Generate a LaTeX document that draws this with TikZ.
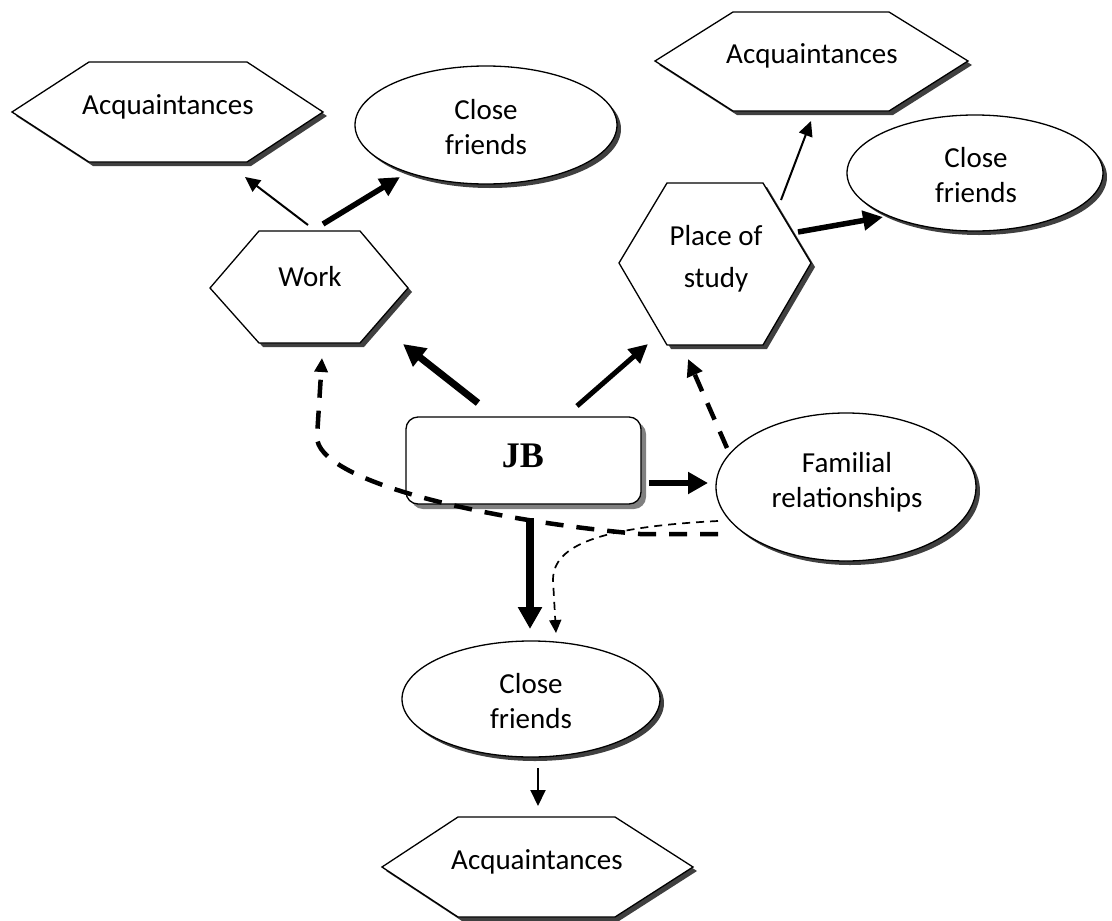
\documentclass[tikz,border=0pt]{standalone}
\usepackage{fontspec}
\setmainfont{Carlito}
\newfontfamily\jbfont{Liberation Serif}
\usetikzlibrary{arrows.meta}
\definecolor{shd}{HTML}{404040}
\definecolor{shdl}{HTML}{808080}
\tikzset{
  lbl/.style={font=\fontsize{29}{35}\selectfont, align=center, inner sep=0pt, anchor=base},
  shp/.style={draw=black, fill=white, line width=1.3pt},
  arrA/.style={line width=2pt, -{Triangle[length=15pt,width=14pt]}},
  arrB/.style={line width=5.5pt, -{Triangle[length=20pt,width=19pt]}},
  arrC/.style={line width=7pt, -{Triangle[length=22pt,width=22pt]}},
  dashA/.style={line width=4.5pt, dash pattern=on 18pt off 13pt, -{Triangle[length=17pt,width=16pt]}},
  dashB/.style={line width=1.7pt, dash pattern=on 8pt off 6pt, -{Triangle[length=13pt,width=12pt]}},
}
\newcommand{\myhex}[7]{%
  \fill[shd,shift={(4,4)}] (#1,#6) -- (#2,#5) -- (#3,#5) -- (#4,#6) -- (#3,#7) -- (#2,#7) -- cycle;
  \draw[shp] (#1,#6) -- (#2,#5) -- (#3,#5) -- (#4,#6) -- (#3,#7) -- (#2,#7) -- cycle;}
\newcommand{\myell}[4]{%
  \fill[shd,shift={(4,4)}] (#1,#2) ellipse [x radius=#3, y radius=#4];
  \draw[shp] (#1,#2) ellipse [x radius=#3, y radius=#4];}
\begin{document}
\begin{tikzpicture}[x=1pt,y=-1pt]
\useasboundingbox (0,0) rectangle (1112,921);
% shapes
\myhex{12}{89}{247}{323}{62}{112}{162}
\myhex{655}{733}{889}{968}{12}{61}{111}
\myhex{382}{458}{615}{693}{817}{867}{917}
\myhex{210}{259}{360}{408}{231}{288}{343}
\myhex{619}{667}{763}{811}{183}{263}{345}
\myell{486}{125}{131}{59}
\myell{975}{173}{128}{58}
\myell{846}{487}{130}{74}
\myell{531}{699}{129}{58}
\fill[shdl, rounded corners=12pt] (411,422) rectangle (646,509);
\draw[shp, rounded corners=12pt] (406,417) rectangle (641,504);
% labels
\node[lbl] (acqL) at (168,114) {Acquaintances};
\node[lbl] (acqT) at (812,63) {Acquaintances};
\node[lbl] (acqB) at (537,869) {Acquaintances};
\node[lbl] (work) at (310,286) {Work};
\node[lbl] (place) at (716,287) {Place of\\[7pt]study};
\node[lbl] (cfL) at (486,154) {Close\\friends};
\node[lbl] (cfR) at (976,202) {Close\\friends};
\node[lbl] (cfB) at (531,728) {Close\\friends};
\node[lbl] (fam) at (847,507) {Familial\\relationships};
\node[anchor=base, inner sep=0pt, font=\jbfont\bfseries\fontsize{36}{40}\selectfont] (jb) at (523,467) {JB};
% connector end points
\coordinate (w1) at (308,225); \coordinate (w1e) at (245,177);
\coordinate (w2) at (323,224); \coordinate (w2e) at (400,177);
\coordinate (p1) at (781,200); \coordinate (p1e) at (811,121);
\coordinate (p2) at (798,232); \coordinate (p2e) at (883,217);
\coordinate (j1) at (478,403); \coordinate (j1e) at (403,344);
\coordinate (j2) at (577,406); \coordinate (j2e) at (648,344);
\coordinate (j3) at (649,483); \coordinate (j3e) at (708,483);
\coordinate (j4) at (530,518); \coordinate (j4e) at (530,629);
\coordinate (b1) at (538,768); \coordinate (b1e) at (538,806);
\coordinate (f1) at (718,534); \coordinate (f1e) at (322,358);
\coordinate (f2) at (727,448); \coordinate (f2e) at (688,359);
\coordinate (f3) at (718,521); \coordinate (f3e) at (556,633);
% connectors
\draw[arrA] (w1) -- (w1e);
\draw[arrB] (w2) -- (w2e);
\draw[arrA] (p1) -- (p1e);
\draw[arrB] (p2) -- (p2e);
\draw[arrC] (j1) -- (j1e);
\draw[line width=5pt, -{Triangle[length=19pt,width=18pt]}] (j2) -- (j2e);
\draw[line width=6.5pt, -{Triangle[length=20pt,width=21pt]}] (j3) -- (j3e);
\draw[line width=8pt, -{Triangle[length=22pt,width=23pt]}] (j4) -- (j4e);
\draw[arrA, -{Triangle[length=16pt,width=15pt]}] (b1) -- (b1e);
\draw[dashA, -{Triangle[length=14pt,width=13pt]}] (f1) -- (640,534) .. controls (480,520) and (317,480) .. (317,437) -- (f1e);
\draw[dashA] (f2) -- (f2e);
\draw[dashB] (f3) .. controls (600,527) and (553,545) .. (553,580) -- (f3e);
\end{tikzpicture}
\end{document}
